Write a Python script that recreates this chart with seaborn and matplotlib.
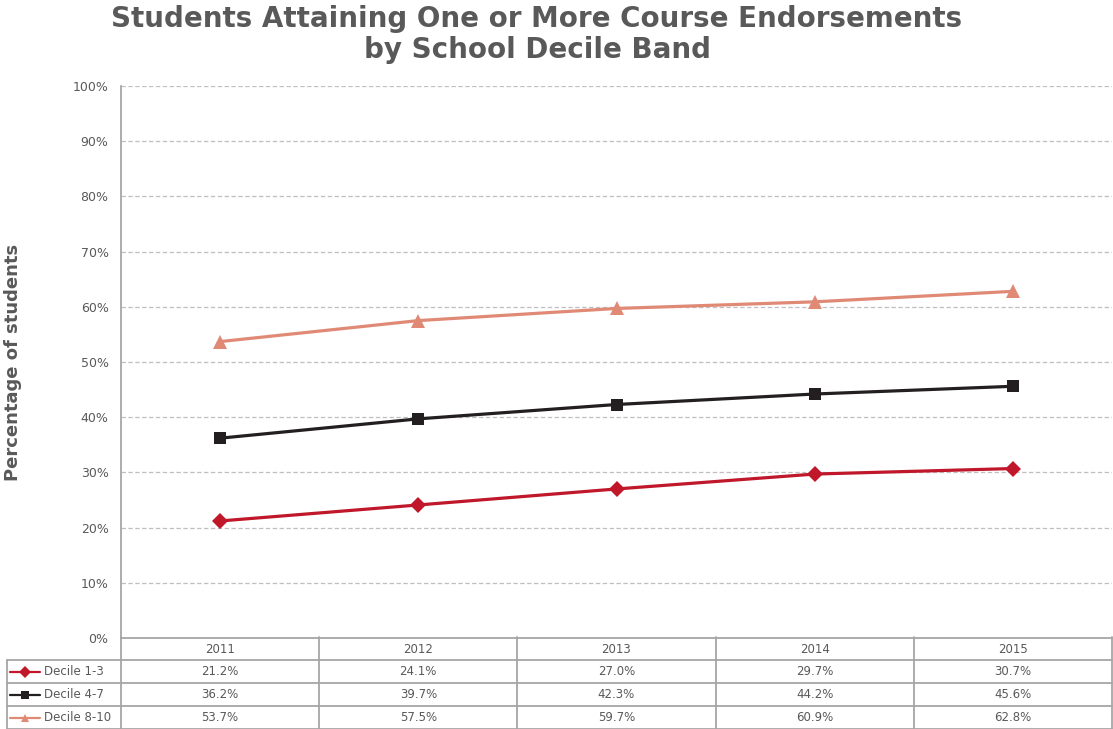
import pandas as pd
import seaborn as sns
import matplotlib.pyplot as plt

# Data
years = ["2011", "2012", "2013", "2014", "2015"]
decile_1_3 = [21.2, 24.1, 27.0, 29.7, 30.7]
decile_4_7 = [36.2, 39.7, 42.3, 44.2, 45.6]
decile_8_10 = [53.7, 57.5, 59.7, 60.9, 62.8]
bands = ["Decile 1-3", "Decile 4-7", "Decile 8-10"]
colors = ["#c0182a", "#231f20", "#e08a76"]
markers = ["D", "s", "^"]
msizes = [8, 9, 10.5]

series = [decile_1_3, decile_4_7, decile_8_10]
df = pd.DataFrame({
    "Year": years * 3,
    "x": list(range(len(years))) * 3,
    "Band": [b for b in bands for _ in years],
    "Value": decile_1_3 + decile_4_7 + decile_8_10,
})

sns.set_style("white")
plt.rcParams["font.family"] = ["DejaVu Sans"]
txt = "#595959"
edge = "#a6a6a6"

fig = plt.figure(figsize=(11.13, 7.29), dpi=100)
W, H = 1113, 729
ax = fig.add_axes([121 / W, 1 - 638 / H, (1112 - 121) / W, (638 - 86) / H])

sns.lineplot(data=df, x="x", y="Value", hue="Band", style="Band",
             palette=dict(zip(bands, colors)), markers=dict(zip(bands, markers)),
             dashes=False, linewidth=2.3, markersize=9, markeredgewidth=0,
             legend=False, ax=ax)
for line, ms in zip(ax.lines, msizes):
    line.set_markersize(ms)

ax.set_xlim(-0.5, len(years) - 0.5)
ax.set_ylim(0, 100)
ax.set_yticks(range(0, 101, 10))
ax.set_yticklabels([f"{v}%" for v in range(0, 101, 10)], color=txt, fontsize=9)
ax.set_xticks([])
ax.set_xlabel("")
ax.set_ylabel("Percentage of students", fontsize=13, fontweight="bold", color=txt)
ax.yaxis.set_label_coords(-0.1, 0.5)
ax.grid(axis="y", color="#bfbfbf", linestyle=(0, (3.5, 2)), linewidth=0.9)
ax.set_axisbelow(True)
ax.tick_params(axis="y", length=0, pad=9)
for s in ["top", "right"]:
    ax.spines[s].set_visible(False)
for s in ["left", "bottom"]:
    ax.spines[s].set_color(edge)
    ax.spines[s].set_linewidth(1.3)

fig.suptitle("Students Attaining One or More Course Endorsements\nby School Decile Band",
             x=537 / W, y=0.993, fontsize=20, fontweight="bold", color=txt, linespacing=1.15)

# Data table below the chart
tx = fig.add_axes([7 / W, 0, (1112 - 7) / W, 92 / H])
px = (1112 - 121) / len(years)
left = -0.5 - (121 - 7) / px
tx.set_xlim(left, len(years) - 0.5)
tx.set_ylim(0, 4)
tx.axis("off")

for k in range(len(years) + 1):
    tx.plot([k - 0.5, k - 0.5], [0, 4], color=edge, lw=1.3, clip_on=False)
tx.plot([left, left], [0, 3], color=edge, lw=1.3, clip_on=False)
for y in [0.02, 1, 2, 3]:
    tx.plot([left, len(years) - 0.5], [y, y], color=edge, lw=1.3, clip_on=False)

for i, yr in enumerate(years):
    tx.text(i, 3.45, yr, ha="center", va="center", fontsize=8.5, color=txt)

for r, (band, vals, c, m) in enumerate(zip(bands, series, colors, markers)):
    yy = 2.5 - r
    x0 = -0.5 + (10 - 121) / px
    x1 = -0.5 + (40 - 121) / px
    tx.plot([x0, x1], [yy, yy], color=c, lw=1.6)
    tx.plot([(x0 + x1) / 2], [yy], marker=m, color=c, markersize=6, markeredgewidth=0)
    tx.text(-0.5 + (44 - 121) / px, yy, band, ha="left", va="center", fontsize=8.5, color=txt)
    for i, v in enumerate(vals):
        tx.text(i, yy, f"{v:.1f}%", ha="center", va="center", fontsize=8.5, color=txt)

fig.savefig("out.png", dpi=100)
